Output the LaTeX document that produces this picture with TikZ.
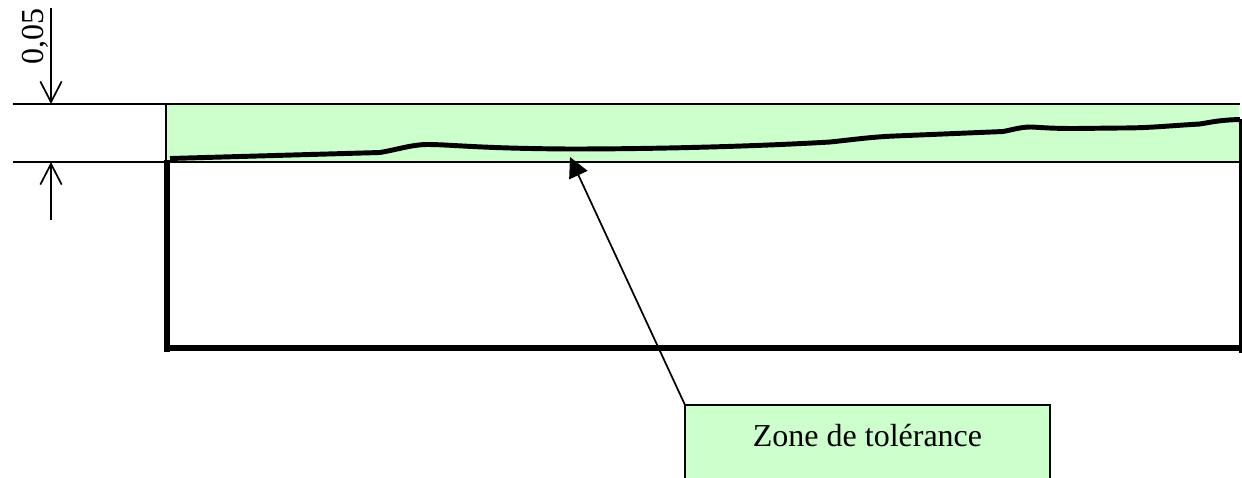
\documentclass[tikz,border=0pt]{standalone}
\usepackage{fontspec}
\setmainfont{Liberation Serif}
\usetikzlibrary{arrows.meta}
\definecolor{zonegreen}{HTML}{CCFFCC}
\tikzset{
  thinline/.style={line width=1.3pt,black},
  thickline/.style={line width=4.2pt,black},
  profile/.style={line width=3.7pt,black,line join=round},
  dimarrow/.style={thinline,-{Straight Barb[length=15.5pt,width=16pt,line width=1.3pt]}},
  leader/.style={thinline,-{Triangle[length=15pt,width=15pt]}},
  labelbox/.style={draw=black,line width=1.3pt,outer sep=0pt,fill=zonegreen,minimum width=273.75pt,minimum height=90pt,anchor=north west,inner sep=0pt}
}
\begin{document}
\begin{tikzpicture}[x=0.75pt,y=-0.75pt]
\useasboundingbox (0,0) rectangle (1242,478);
\fill[zonegreen] (166,104) rectangle (1239,162);
% named points
\coordinate (topL) at (13,104);
\coordinate (topR) at (1240,104);
\coordinate (lowL) at (13,162);
\coordinate (lowR) at (1240,162);
\coordinate (dimTop) at (51,104);
\coordinate (dimLow) at (51,162);
\coordinate (dimTopEnd) at (51,8);
\coordinate (dimLowEnd) at (51,220);
\coordinate (zoneTL) at (166,104);
\coordinate (zoneBL) at (166,162);
\coordinate (partTL) at (167,160);
\coordinate (partBL) at (167,352);
\coordinate (bottomL) at (164,348);
\coordinate (bottomR) at (1240,348);
\coordinate (partBR) at (1241.5,353);
\coordinate (partTR) at (1241.5,119);
\coordinate (tip) at (570,157);
\draw[thinline] (topL) -- (topR);
\draw[thinline] (lowL) -- (lowR);
\draw[thinline] (zoneTL) -- (zoneBL);
\draw[dimarrow] (dimTopEnd) -- (dimTop);
\draw[dimarrow] (dimLowEnd) -- (dimLow);
% part outline
\draw[thickline] (partTL) -- (partBL);
\draw[thickline] (bottomL) -- (bottomR);
\draw[thickline] (partTR) -- (partBR);
% profile
\draw[profile] (170,158.5) -- (380,152.5)
  .. controls (400,149) and (412,144.5) .. (428,144.5)
  .. controls (450,144.5) and (480,148.5) .. (570,149)
  .. controls (680,149) and (780,145) .. (830,142)
  .. controls (850,140) and (870,137) .. (895,136)
  -- (1003,131.5)
  .. controls (1012,130) and (1020,127) .. (1031,127)
  .. controls (1042,127.5) and (1050,128.5) .. (1075,128.5)
  -- (1120,128) .. controls (1150,128) and (1165,126) .. (1200,124)
  .. controls (1212,122) and (1220,120) .. (1240,119.5);
% label
\node[labelbox] (label) at (685,405) {};
\node[font=\fontsize{24}{28}\selectfont,anchor=base,inner sep=0pt] (labeltext) at (867.5,446) {Zone de tolérance};
\draw[leader] (label.north west) -- (tip);
\node[rotate=90,anchor=base,inner sep=0pt,font=\fontsize{24}{28}\selectfont] (dimtext) at (43,37) {0,05};
\end{tikzpicture}
\end{document}
